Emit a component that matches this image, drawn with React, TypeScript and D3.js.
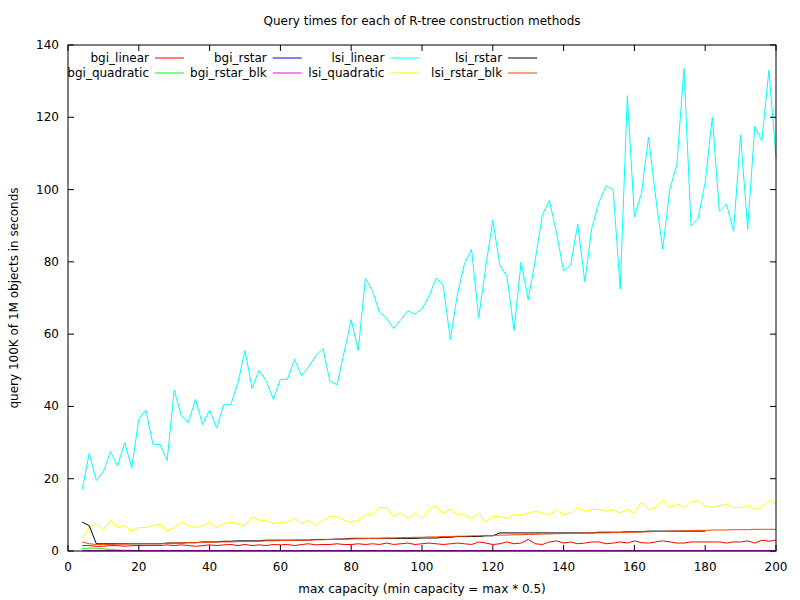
import React from "react";
import * as d3 from "d3";

const capacities = [
  4, 6, 8, 10, 12, 14, 16, 18, 20, 22, 24, 26, 28, 30, 32, 34, 36, 38, 40, 42, 44, 46, 48, 50, 52, 54, 56, 58, 60, 62,
  64, 66, 68, 70, 72, 74, 76, 78, 80, 82, 84, 86, 88, 90, 92, 94, 96, 98, 100, 102, 104, 106, 108, 110, 112, 114, 116,
  118, 120, 122, 124, 126, 128, 130, 132, 134, 136, 138, 140, 142, 144, 146, 148, 150, 152, 154, 156, 158, 160, 162,
  164, 166, 168, 170, 172, 174, 176, 178, 180, 182, 184, 186, 188, 190, 192, 194, 196, 198, 200,
];

const bgiLinear = [
  1.5, 1.5, 1.3, 1.3, 1.5, 1.5, 1.3, 1.5, 1.5, 1.5, 1.5, 1.5, 1.7, 1.5, 1.7, 1.5, 1.3, 1.5, 1.7, 1.5, 1.7, 1.8, 1.5,
  1.8, 1.5, 1.7, 1.5, 1.8, 1.7, 1.8, 1.5, 1.8, 2, 1.7, 1.8, 1.8, 2, 1.8, 1.8, 2, 1.8, 2, 1.8, 2.2, 1.8, 2, 2.2, 1.8,
  2, 2.2, 2, 1.8, 2, 2.2, 2, 1.8, 2.5, 2.2, 1.8, 2, 2.5, 2, 2.2, 3.2, 2, 1.8, 2.5, 2.8, 2.2, 2.5, 2, 2.2, 2.5, 2.5, 2,
  2.2, 2.5, 2.2, 2.8, 2.3, 2.2, 2.5, 2.8, 2.5, 2.2, 2.2, 2.5, 2.5, 2.5, 2.5, 2.5, 2.2, 2.5, 2.5, 2.8, 2.2, 3, 2.7, 3,
];
const bgiQuadratic = [
  0.7, 0.8, 0.8, 0.6, 0.4, 0.3, 0.2, 0.2, 0.1, 0.1, 0.1, 0.1, 0.1, 0.1, 0.1, 0.1, 0.1, 0.1, 0.1, 0.1, 0.1, 0.1, 0.1,
  0.1, 0.1, 0.1, 0.1, 0.1, 0.1, 0.1, 0.1, 0.1, 0.1, 0.1, 0.1, 0.1, 0.1, 0.1, 0.1, 0.1, 0.1, 0.1, 0.1, 0.1, 0.1, 0.1,
  0.1, 0.1, 0.1, 0.1, 0.1, 0.1, 0.1, 0.1, 0.1, 0.1, 0.1, 0.1, 0.1, 0.1, 0.1, 0.1, 0.1, 0.1, 0.1, 0.1, 0.1, 0.1, 0.1,
  0.1, 0.1, 0.1, 0.1, 0.1, 0.1, 0.1, 0.1, 0.1, 0.1, 0.1, 0.1, 0.1, 0.1, 0.1, 0.1, 0.1, 0.1, 0.1, 0.1, 0.1, 0.1, 0.1,
  0.1, 0.1, 0.1, 0.1, 0.1, 0.1, 0.1,
];
const bgiRstar = [
  0.1, 0.1, 0.1, 0.1, 0.1, 0.1, 0.1, 0.1, 0.1, 0.1, 0.1, 0.1, 0.1, 0.1, 0.1, 0.1, 0.1, 0.1, 0.1, 0.1, 0.1, 0.1, 0.1,
  0.1, 0.1, 0.1, 0.1, 0.1, 0.1, 0.1, 0.1, 0.1, 0.1, 0.1, 0.1, 0.1, 0.1, 0.1, 0.1, 0.1, 0.1, 0.1, 0.1, 0.1, 0.1, 0.1,
  0.1, 0.1, 0.1, 0.1, 0.1, 0.1, 0.1, 0.1, 0.1, 0.1, 0.1, 0.1, 0.1, 0.1, 0.1, 0.1, 0.1, 0.1, 0.1, 0.1, 0.1, 0.1, 0.1,
  0.1, 0.1, 0.1, 0.1, 0.1, 0.1, 0.1, 0.1, 0.1, 0.1, 0.1, 0.1, 0.1, 0.1, 0.1, 0.1, 0.1, 0.1, 0.1, 0.1, 0.1, 0.1, 0.1,
  0.1, 0.1, 0.1, 0.1, 0.1, 0.1, 0.1,
];
const bgiRstarBlk = [
  0.1, 0.1, 0.1, 0.1, 0.1, 0.1, 0.1, 0.1, 0.1, 0.1, 0.1, 0.1, 0.1, 0.1, 0.1, 0.1, 0.1, 0.1, 0.1, 0.1, 0.1, 0.1, 0.1,
  0.1, 0.1, 0.1, 0.1, 0.1, 0.1, 0.1, 0.1, 0.1, 0.1, 0.1, 0.1, 0.1, 0.1, 0.1, 0.1, 0.1, 0.1, 0.1, 0.1, 0.1, 0.1, 0.1,
  0.1, 0.1, 0.1, 0.1, 0.1, 0.1, 0.1, 0.1, 0.1, 0.1, 0.1, 0.1, 0.1, 0.1, 0.1, 0.1, 0.1, 0.1, 0.1, 0.1, 0.1, 0.1, 0.1,
  0.1, 0.1, 0.1, 0.1, 0.1, 0.1, 0.1, 0.1, 0.1, 0.1, 0.1, 0.1, 0.1, 0.1, 0.1, 0.1, 0.1, 0.1, 0.1, 0.1, 0.1, 0.1, 0.1,
  0.1, 0.1, 0.1, 0.1, 0.1, 0.1, 0.1,
];
const lsiLinear = [
  17, 27, 19.5, 22, 27.5, 23.5, 30, 23, 36.5, 39, 29.5, 29.5, 25, 44.5, 37.5, 35.5, 42, 35, 39, 34, 40.5, 40.5, 46.5,
  55.5, 45, 50, 47, 42, 47.5, 47.5, 53, 48.5, 51, 54, 56, 47, 46, 55, 64, 55.5, 75.5, 72, 66, 64.5, 61.5, 64, 66.5,
  65.5, 67, 70.5, 75.5, 73.5, 58.5, 71, 79.5, 83.5, 64.5, 78.5, 91.5, 79, 76, 61, 80, 69.5, 80.5, 93, 97, 88, 77.5, 79,
  90.5, 74.5, 89.5, 96.5, 101, 100, 72.5, 126, 92.5, 99, 114.5, 98, 83.5, 100, 107, 133.5, 90, 92, 102, 120, 94, 96,
  88.5, 115, 89, 117.5, 113.5, 133, 109,
];
const lsiQuadratic = [
  3.5, 6.5, 7.5, 6, 8.5, 6.5, 7, 5.5, 6.5, 6.5, 7, 7.5, 5.5, 6.5, 8, 7, 6.5, 7, 8, 6.5, 7.5, 8, 7.5, 7, 9.5, 8.5, 8.5,
  7.5, 8, 8, 9, 7.5, 8.5, 7, 8.5, 9.5, 9.5, 8.5, 8, 8.5, 10, 10, 12, 12, 9.5, 10.5, 9, 10.5, 9, 11.5, 12.5, 10.5, 11.5,
  10, 10, 9, 10.5, 8, 9.5, 9.5, 9, 10, 10, 10.5, 11, 10.5, 10, 11.5, 10, 10.5, 12, 11, 11.5, 11.5, 11, 11.5, 10.5, 11.5,
  10.5, 13.5, 11.5, 12, 14, 12, 13, 12, 13.5, 14, 12.5, 12, 12.5, 13, 12, 12, 12.5, 11.5, 12, 14, 13,
];
const lsiRstar = [
  8, 7, 2, 2, 2, 2, 2, 2, 2, 2, 2, 2, 2.2, 2.2, 2.2, 2.3, 2.3, 2.5, 2.5, 2.5, 2.7, 2.7, 2.8, 2.8, 2.8, 2.8, 3, 3, 3, 3,
  3, 3, 3, 3.2, 3.2, 3.2, 3.3, 3.3, 3.5, 3.5, 3.5, 3.5, 3.5, 3.5, 3.5, 3.5, 3.5, 3.5, 3.6, 3.6, 3.6, 3.8, 3.8, 4, 4, 4,
  4, 4.2, 4.2, 5, 5, 5, 5, 5, 5, 5, 5, 5, 5, 5, 5, 5, 5, 5.2, 5.2, 5.2, 5.2, 5.3, 5.3, 5.3, 5.5, 5.5, 5.5, 5.5, 5.5,
  5.5, 5.5, 5.5, 5.5,
];
const lsiRstarBlk = [
  2.5, 2, 1.8, 1.8, 1.8, 1.9, 1.9, 2, 2, 2, 2, 2, 2.1, 2.2, 2.2, 2.3, 2.3, 2.4, 2.4, 2.5, 2.5, 2.5, 2.6, 2.6, 2.7,
  2.7, 2.8, 2.8, 2.9, 2.9, 3, 3, 3, 3.1, 3.1, 3.2, 3.2, 3.3, 3.3, 3.4, 3.4, 3.5, 3.5, 3.6, 3.6, 3.7, 3.7, 3.8, 3.8,
  3.9, 3.9, 4, 4, 4.1, 4.1, 4.2, 4.2, 4.3, 4.3, 4.4, 4.4, 4.5, 4.5, 4.6, 4.6, 4.7, 4.7, 4.8, 4.8, 4.9, 4.9, 5, 5, 5, 5,
  5.1, 5.1, 5.2, 5.2, 5.3, 5.3, 5.4, 5.4, 5.5, 5.5, 5.6, 5.6, 5.7, 5.7, 5.8, 5.8, 5.8, 5.9, 5.9, 5.9, 6, 6, 6, 6,
];

const series = [
  { name: "bgi_linear", color: "#ff0000", values: bgiLinear },
  { name: "bgi_quadratic", color: "#00ff00", values: bgiQuadratic },
  { name: "bgi_rstar", color: "#0000ff", values: bgiRstar },
  { name: "bgi_rstar_blk", color: "#ff00ff", values: bgiRstarBlk },
  { name: "lsi_linear", color: "#00ffff", values: lsiLinear },
  { name: "lsi_quadratic", color: "#ffff00", values: lsiQuadratic },
  { name: "lsi_rstar", color: "#000000", values: lsiRstar },
  { name: "lsi_rstar_blk", color: "#ff4500", values: lsiRstarBlk },
];

const xTicks = [0, 20, 40, 60, 80, 100, 120, 140, 160, 180, 200];
const yTicks = [0, 20, 40, 60, 80, 100, 120, 140];

const W = 800;
const H = 600;
const left = 68;
const right = 776;
const top = 45;
const bottom = 551;
const font = "'DejaVu Sans', sans-serif";

const App: React.FC = () => {
  const x = d3.scaleLinear().domain([0, 200]).range([left, right]);
  const y = d3.scaleLinear().domain([0, 140]).range([bottom, top]);
  const line = d3
    .line<[number, number]>()
    .x((d) => x(d[0]))
    .y((d) => y(d[1]));

  return (
    <svg width={W} height={H} style={{ position: "absolute", left: 0, top: 0, background: "white" }} fontFamily={font}>
      <text x={W / 2 + 22} y={25} textAnchor="middle" fontSize={12}>
        Query times for each of R-tree construction methods
      </text>
      <g>
        {series.map((s) => (
          <path
            key={s.name}
            d={line(s.values.map((v, i) => [capacities[i], v] as [number, number])) ?? ""}
            fill="none"
            stroke={s.color}
            strokeWidth={1}
          />
        ))}
      </g>
      <rect x={left} y={top} width={right - left} height={bottom - top} fill="none" stroke="black" />
      {xTicks.map((t) => (
        <g key={`x${t}`}>
          <line x1={x(t)} x2={x(t)} y1={bottom} y2={bottom - 6} stroke="black" />
          <line x1={x(t)} x2={x(t)} y1={top} y2={top + 6} stroke="black" />
          <text x={x(t)} y={bottom + 20} textAnchor="middle" fontSize={12}>
            {t}
          </text>
        </g>
      ))}
      {yTicks.map((t) => (
        <g key={`y${t}`}>
          <line x1={left} x2={left + 6} y1={y(t)} y2={y(t)} stroke="black" />
          <line x1={right} x2={right - 6} y1={y(t)} y2={y(t)} stroke="black" />
          <text x={left - 9} y={y(t) + 4} textAnchor="end" fontSize={12}>
            {t}
          </text>
        </g>
      ))}
      <text x={422} y={593} textAnchor="middle" fontSize={12}>
        max capacity (min capacity = max * 0.5)
      </text>
      <text transform={`translate(18, ${(top + bottom) / 2}) rotate(-90)`} textAnchor="middle" fontSize={12}>
        query 100K of 1M objects in seconds
      </text>
      {series.map((s, i) => {
        const col = Math.floor(i / 2);
        const row = i % 2;
        const lx = 149 + col * 117.7;
        const ly = 58 + row * 15;
        return (
          <g key={`leg${s.name}`}>
            <text x={lx} y={ly + 4} textAnchor="end" fontSize={12} textLength={undefined}>
              {s.name}
            </text>
            <line x1={lx + 6} x2={lx + 35} y1={ly} y2={ly} stroke={s.color} />
          </g>
        );
      })}
    </svg>
  );
};

export default App;
